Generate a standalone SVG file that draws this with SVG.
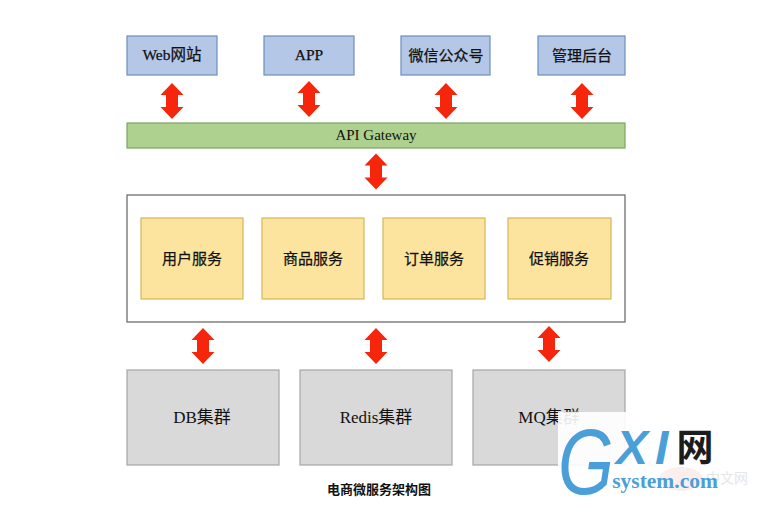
<svg xmlns="http://www.w3.org/2000/svg" width="758" height="512" viewBox="0 0 758 512">
  <style>
    text { font-family: "Liberation Serif", "Noto Sans CJK SC", serif; fill: #111; text-anchor: middle; }
    .client { fill: #b4c7e7; stroke: #6c8ebf; stroke-width: 1.2; }
    .gateway { fill: #aed18f; stroke: #7aa35f; stroke-width: 1.2; }
    .frame { fill: #fff; stroke: #6e6e6e; stroke-width: 1.3; }
    .service { fill: #fce49e; stroke: #d6b656; stroke-width: 1.2; }
    .cluster { fill: #d9d9d9; stroke: #a6a6a6; stroke-width: 1.2; }
    .t15 { font-size: 15px; stroke: #111; stroke-width: 0.25; }
    .t155 { font-size: 15.5px; stroke: #111; stroke-width: 0.25; }
    .t13 { font-size: 15px; }
    .t16 { font-size: 17px; }
    .cap { font-size: 13px; font-weight: 700; }
    .mark { font-family: "Liberation Sans", sans-serif; fill: #4a9fd8; font-style: italic; text-anchor: start; }
  </style>
  <defs>
    <path id="dbl" d="M0 0L11.500 12H6V24H11.500L0 36L-11.500 24H-6V12H-11.500Z" fill="#f5260c"/>
  </defs>

  <g id="clients">
    <g id="web"><rect class="client" x="127" y="36" width="90" height="39"/><text class="t155" x="172" y="60">Web网站</text></g>
    <g id="app"><rect class="client" x="264" y="36" width="90" height="39"/><text class="t155" x="309" y="60">APP</text></g>
    <g id="wechat"><rect class="client" x="401" y="36" width="89" height="39"/><text class="t15" x="446" y="61">微信公众号</text></g>
    <g id="admin"><rect class="client" x="538" y="36" width="87" height="39"/><text class="t15" x="582" y="61">管理后台</text></g>
  </g>

  <g id="gateway"><rect class="gateway" x="127" y="123" width="498" height="25"/><text class="t13" x="376" y="140">API Gateway</text></g>

  <g id="services">
    <rect class="frame" x="127" y="195" width="498" height="127"/>
    <g id="user"><rect class="service" x="141" y="218" width="102" height="81"/><text class="t15" x="192" y="264">用户服务</text></g>
    <g id="goods"><rect class="service" x="262" y="218" width="102" height="81"/><text class="t15" x="313" y="264">商品服务</text></g>
    <g id="order"><rect class="service" x="383" y="218" width="102" height="81"/><text class="t15" x="434" y="264">订单服务</text></g>
    <g id="promo"><rect class="service" x="508" y="218" width="103" height="81"/><text class="t15" x="559" y="264">促销服务</text></g>
  </g>

  <g id="clusters">
    <g id="db"><rect class="cluster" x="127" y="370" width="152" height="95"/><text class="t16" x="202" y="423">DB集群</text></g>
    <g id="redis"><rect class="cluster" x="300" y="370" width="152" height="95"/><text class="t16" x="376" y="423">Redis集群</text></g>
    <g id="mq"><rect class="cluster" x="473" y="370" width="152" height="95"/><text class="t16" x="549" y="423">MQ集群</text></g>
  </g>

  <g id="connectors">
    <use href="#dbl" x="172" y="83"/>
    <use href="#dbl" x="309" y="81"/>
    <use href="#dbl" x="446" y="83"/>
    <use href="#dbl" x="582" y="83"/>
    <use href="#dbl" x="376" y="153.500"/>
    <use href="#dbl" x="203" y="328"/>
    <use href="#dbl" x="376" y="328"/>
    <use href="#dbl" x="549" y="326"/>
  </g>

  <text class="cap" x="379" y="493.500">电商微服务架构图</text>

  <g id="logo">
    <rect x="558" y="412" width="68" height="54" fill="#fff" opacity="0.9"/>
    <ellipse cx="681" cy="479" rx="22" ry="12" fill="#fdeeee"/>
    <text x="727" y="483" style="font-family:'Noto Sans CJK SC',sans-serif;font-size:14px;fill:#e6e6e6">中文网</text>
    <text class="mark" transform="translate(558 494) scale(0.78 1)" style="font-size:92px">G</text>
    <text class="mark" x="616" y="464" style="font-size:48px;font-weight:700">X</text>
    <text class="mark" x="655" y="464" style="font-size:48px;font-weight:700">I</text>
    <text x="695" y="461" style="font-family:'Noto Sans CJK SC',sans-serif;font-size:37px;font-weight:700;fill:#1c1c1c">网</text>
    <text x="665" y="488" style="font-size:21.500px;font-weight:700;fill:#4a9fd8">system.com</text>
  </g>
</svg>
